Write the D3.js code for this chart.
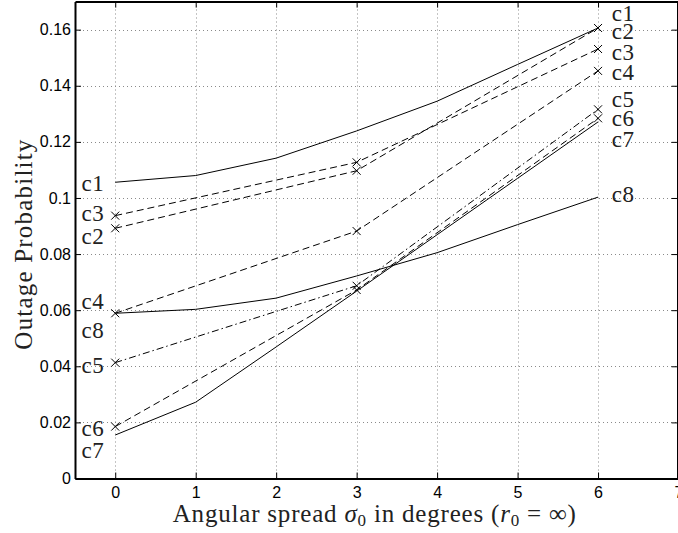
<!DOCTYPE html>
<html><head><meta charset="utf-8">
<script src="https://cdn.jsdelivr.net/npm/d3@7"></script>
<style>body{margin:0;background:#fff;overflow:hidden}</style>
</head><body>
<svg id="chart" width="678" height="533"></svg>
<script>
// ---- data ----
const xFull = [0, 1, 2, 3, 4, 5, 6];
const xSparse = [0, 3, 6];
const c1 = [0.1056, 0.1080, 0.1142, 0.1239, 0.1345, 0.1476, 0.1606];
const c2 = [0.0892, 0.1097, 0.1606];
const c3 = [0.0937, 0.1127, 0.1531];
const c4 = [0.0589, 0.0882, 0.1453];
const c5 = [0.0413, 0.0687, 0.1316];
const c6 = [0.0185, 0.0672, 0.1284];
const c7 = [0.0155, 0.0272, 0.0469, 0.0668, 0.0869, 0.1070, 0.1271];
const c8 = [0.0589, 0.0603, 0.0643, 0.0722, 0.0805, 0.0905, 0.1003];
const xTicks = [0, 1, 2, 3, 4, 5, 6, 7];
const yTicks = [0, 0.02, 0.04, 0.06, 0.08, 0.1, 0.12, 0.14, 0.16];
const yTickLabels = ["0", "0.02", "0.04", "0.06", "0.08", "0.1", "0.12", "0.14", "0.16"];
const leftLabelNames = ["c1", "c3", "c2", "c4", "c8", "c5", "c6", "c7"];
const leftLabelValues = [0.1052, 0.0945, 0.0865, 0.0631, 0.0529, 0.0405, 0.0180, 0.0102];
const rightLabelNames = ["c1", "c2", "c3", "c4", "c5", "c6", "c7", "c8"];
const rightLabelValues = [0.1658, 0.1595, 0.1520, 0.1449, 0.1353, 0.1285, 0.1210, 0.1014];

const series = [
  {name: "c1", xs: xFull, ys: c1, dash: null, marker: false},
  {name: "c2", xs: xSparse, ys: c2, dash: "7,4", marker: true},
  {name: "c3", xs: xSparse, ys: c3, dash: "7,4", marker: true},
  {name: "c4", xs: xSparse, ys: c4, dash: "7,4", marker: true},
  {name: "c5", xs: xSparse, ys: c5, dash: "7,3,1.5,3", marker: true},
  {name: "c6", xs: xSparse, ys: c6, dash: "7,4", marker: true},
  {name: "c7", xs: xFull, ys: c7, dash: null, marker: false},
  {name: "c8", xs: xFull, ys: c8, dash: null, marker: false}
];

// ---- layout ----
const svg = d3.select("#chart");
const x = d3.scaleLinear().domain([-0.5, 7]).range([75, 678.5]);
const y = d3.scaleLinear().domain([0, 0.17]).range([478.5, 1.6]);
const L = x(-0.5), R = x(7), T = y(0.17), B = y(0);

// grid
const grid = svg.append("g").attr("stroke", "#8a8a8a").attr("stroke-width", 1)
  .attr("stroke-dasharray", "1,3");
grid.selectAll(".gx").data(xTicks.filter(d => d < 7)).enter().append("line")
  .attr("x1", d => Math.round(x(d)) + 0.5).attr("x2", d => Math.round(x(d)) + 0.5)
  .attr("y1", B).attr("y2", T);
grid.selectAll(".gy").data(yTicks.filter(d => d > 0)).enter().append("line")
  .attr("y1", d => Math.round(y(d)) + 0.5).attr("y2", d => Math.round(y(d)) + 0.5)
  .attr("x1", L).attr("x2", R);

// axes
const fontSans = "'Liberation Sans', Arial, sans-serif";
const axB = svg.append("g").attr("transform", `translate(0,${B})`)
  .call(d3.axisBottom(x).tickValues(xTicks).tickSizeInner(-6).tickSizeOuter(0).tickPadding(8));
const axT = svg.append("g").attr("transform", `translate(0,${T})`)
  .call(d3.axisTop(x).tickValues(xTicks).tickSizeInner(-6).tickSizeOuter(0).tickFormat(""));
const axL = svg.append("g").attr("transform", `translate(${L},0)`)
  .call(d3.axisLeft(y).tickValues(yTicks).tickFormat((d, i) => yTickLabels[i])
    .tickSizeInner(-6).tickSizeOuter(0).tickPadding(4));
const axR = svg.append("g").attr("transform", `translate(${R - 1},0)`)
  .call(d3.axisRight(y).tickValues(yTicks).tickSizeInner(-6).tickSizeOuter(0).tickFormat(""));
[axB, axT, axL, axR].forEach(a => {
  a.select(".domain").attr("stroke", "#000").attr("stroke-width", 2);
  a.selectAll(".tick line").attr("stroke", "#000").attr("stroke-width", 1);
  a.selectAll(".tick text").attr("fill", "#000").style("font-family", fontSans).style("font-size", "16px");
});

// lines
const clip = svg.append("clipPath").attr("id", "clip").append("rect")
  .attr("x", L).attr("y", T).attr("width", R - L).attr("height", B - T);
const plot = svg.append("g").attr("clip-path", "url(#clip)");
const line = d3.line().x(d => x(d[0])).y(d => y(d[1]));
series.forEach(s => {
  const pts = s.xs.map((xv, i) => [xv, s.ys[i]]);
  plot.append("path").attr("d", line(pts)).attr("fill", "none")
    .attr("stroke", "#000").attr("stroke-width", 1)
    .attr("stroke-dasharray", s.dash);
  if (s.marker) {
    const m = 4;
    plot.selectAll(null).data(pts).enter().append("path")
      .attr("d", d => `M${x(d[0]) - m},${y(d[1]) - m}L${x(d[0]) + m},${y(d[1]) + m}M${x(d[0]) - m},${y(d[1]) + m}L${x(d[0]) + m},${y(d[1]) - m}`)
      .attr("stroke", "#000").attr("stroke-width", 1).attr("fill", "none");
  }
});

// curve labels
const fontSerif = "'Liberation Serif', 'Times New Roman', serif";
const lbl = svg.append("g").style("font-family", fontSerif).style("font-size", "23px")
  .style("letter-spacing", "0.5px").attr("fill", "#222");
lbl.selectAll(".ll").data(leftLabelNames).enter().append("text")
  .attr("x", x(-0.42)).attr("y", (d, i) => y(leftLabelValues[i])).attr("dy", "0.34em").text(d => d);
lbl.selectAll(".rl").data(rightLabelNames).enter().append("text")
  .attr("x", x(6.17)).attr("y", (d, i) => y(rightLabelValues[i])).attr("dy", "0.34em").text(d => d);

// axis titles
const xt = svg.append("text").attr("x", (L + R) / 2 - 2).attr("y", 522).attr("text-anchor", "middle")
  .style("font-family", fontSerif).style("font-size", "25px").style("letter-spacing", "0.8px")
  .attr("fill", "#222");
xt.append("tspan").text("Angular spread ");
xt.append("tspan").attr("font-style", "italic").text("σ");
xt.append("tspan").attr("font-size", "17px").attr("dy", 4).text("0");
xt.append("tspan").attr("dy", -4).text(" in degrees (");
xt.append("tspan").attr("font-style", "italic").text("r");
xt.append("tspan").attr("font-size", "17px").attr("dy", 4).text("0");
xt.append("tspan").attr("dy", -4).text(" = ∞)");

svg.append("text").attr("transform", `translate(32,${(T + B) / 2 + 4}) rotate(-90)`)
  .attr("text-anchor", "middle")
  .style("font-family", fontSerif).style("font-size", "25px").style("letter-spacing", "1.2px")
  .attr("fill", "#222")
  .text("Outage Probability");
</script>
</body></html>
